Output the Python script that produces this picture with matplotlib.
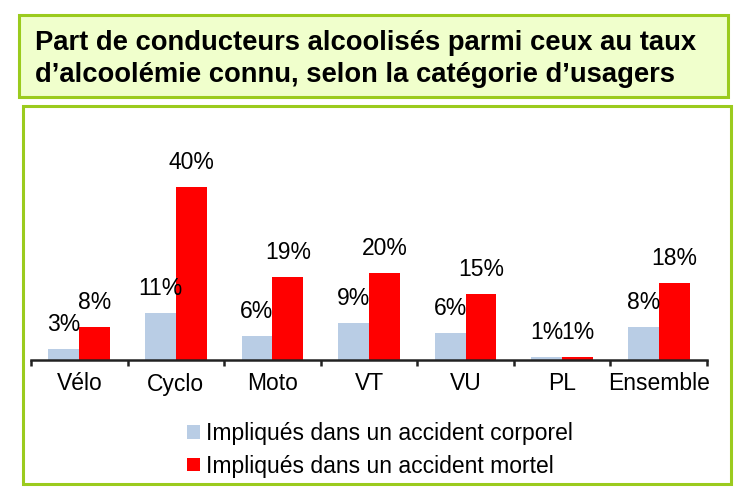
import matplotlib
matplotlib.use("Agg")
import matplotlib.pyplot as plt
import numpy as np
from matplotlib.patches import Rectangle

plt.rcParams['font.family'] = ['Liberation Sans', 'DejaVu Sans']

# data
categories = ["Vélo", "Cyclo", "Moto", "VT", "VU", "PL", "Ensemble"]
corporel = [2.6, 10.8, 5.6, 8.6, 6.2, 0.7, 7.6]
mortel = [7.6, 40.0, 19.2, 20.1, 15.2, 0.8, 17.8]
series_names = ["Impliqués dans un accident corporel",
                "Impliqués dans un accident mortel"]
title_lines = ["Part de conducteurs alcoolisés parmi ceux au taux",
               "d\u2019alcoolémie connu, selon la catégorie d\u2019usagers"]

blue = "#B9CDE5"
red = "#FF0000"
green = "#9BCB1E"

W, H = 750, 501
fig = plt.figure(figsize=(W / 100, H / 100), dpi=100)

# title box
fig.patches.append(Rectangle((19 / W, 1 - 97 / H), (728 - 19) / W, (97 - 15) / H,
                             transform=fig.transFigure, facecolor="#F0FFCC",
                             edgecolor=green, linewidth=2.2, zorder=-2))
for yb, line in zip((50, 82), title_lines):
    fig.text(35 / W, 1 - yb / H, line, fontsize=19.7, fontweight="bold",
             ha="left", va="baseline")

# chart box
fig.patches.append(Rectangle((23 / W, 1 - 484 / H), (731 - 23) / W, (484 - 106) / H,
                             transform=fig.transFigure, facecolor="none",
                             edgecolor=green, linewidth=2.2, zorder=-2))

ax = fig.add_axes([31 / W, 1 - 360 / H, (707 - 31) / W, (360 - 130) / H])
ax.patch.set_alpha(0)
x = np.arange(len(categories))
w = 0.32
b1 = ax.bar(x - w / 2, corporel, w, color=blue, label=series_names[0])
b2 = ax.bar(x + w / 2, mortel, w, color=red, label=series_names[1])

for bars, vals in ((b1, corporel), (b2, mortel)):
    for rect, v in zip(bars, vals):
        ax.annotate(f"{v:.0f}%", (rect.get_x() + rect.get_width() / 2, v),
                    xytext=(0, 17.5), textcoords="offset points",
                    ha="center", va="center", fontsize=16.5)

ax.set_xlim(-0.5, len(categories) - 0.5)
ax.set_ylim(0, 53.1)
for s in ("top", "right", "left"):
    ax.spines[s].set_visible(False)
ax.spines["bottom"].set_linewidth(1.8)
ax.spines["bottom"].set_color("#222222")
ax.set_yticks([])
ax.set_xticks(x)
ax.set_xticklabels(categories, fontsize=16.5)
ax.tick_params(axis="x", which="major", length=0, pad=9)
ax.set_xticks(np.arange(len(categories) + 1) - 0.5, minor=True)
ax.tick_params(axis="x", which="minor", length=4, width=1.8, color="#222222")

ax.legend(loc="upper left", bbox_to_anchor=(187 / W, 1 - 422 / H),
          bbox_transform=fig.transFigure, frameon=False, fontsize=16.5,
          borderpad=0, borderaxespad=0, handlelength=0.55, handleheight=0.55,
          handletextpad=0.3, labelspacing=0.42)

fig.savefig("out.png", dpi=100)
